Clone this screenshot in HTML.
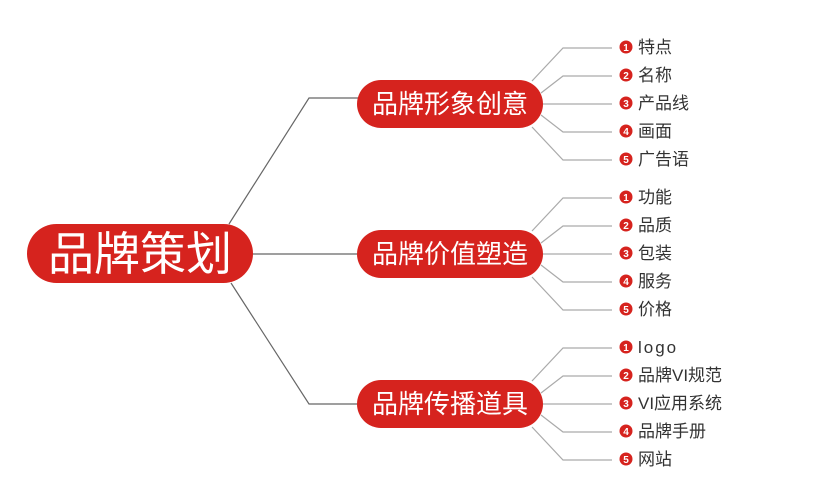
<!DOCTYPE html>
<html><head><meta charset="utf-8"><style>
html,body{margin:0;padding:0;background:#fff;}
svg{display:block;}
text{font-family:"Liberation Sans","Noto Sans CJK SC",sans-serif;}
</style></head><body>
<svg width="840" height="480" viewBox="0 0 840 480" xmlns="http://www.w3.org/2000/svg">
<g stroke="#666" stroke-width="1.2" fill="none">
<polyline points="229,224 309,98 360,98"/>
<line x1="250" y1="254" x2="360" y2="254"/>
<polyline points="231,283 309,404 360,404"/>
</g>
<g stroke="#aaa" stroke-width="1.2" fill="none">
<polyline points="532,81 563,48 612,48"/>
<polyline points="541,93 563,76 612,76"/>
<polyline points="541,104 612,104"/>
<polyline points="541,115 563,132 612,132"/>
<polyline points="532,127 563,160 612,160"/>
<polyline points="532,231 563,198 612,198"/>
<polyline points="541,243 563,226 612,226"/>
<polyline points="541,254 612,254"/>
<polyline points="541,265 563,282 612,282"/>
<polyline points="532,277 563,310 612,310"/>
<polyline points="532,381 563,348 612,348"/>
<polyline points="541,393 563,376 612,376"/>
<polyline points="541,404 612,404"/>
<polyline points="541,415 563,432 612,432"/>
<polyline points="532,427 563,460 612,460"/>
</g>
<rect x="27" y="224" width="226" height="59" rx="29.5" fill="#d6231e"/>
<text x="140" y="270" font-size="46" fill="#fff" text-anchor="middle">品牌策划</text>
<rect x="357" y="80" width="186" height="48" rx="24" fill="#d6231e"/>
<text x="450" y="113" font-size="26" fill="#fff" text-anchor="middle">品牌形象创意</text>
<rect x="357" y="230" width="186" height="48" rx="24" fill="#d6231e"/>
<text x="450" y="263" font-size="26" fill="#fff" text-anchor="middle">品牌价值塑造</text>
<rect x="357" y="380" width="186" height="48" rx="24" fill="#d6231e"/>
<text x="450" y="413" font-size="26" fill="#fff" text-anchor="middle">品牌传播道具</text>
<g font-size="17" fill="#333">
<text x="638" y="53">特点</text>
<text x="638" y="81">名称</text>
<text x="638" y="109">产品线</text>
<text x="638" y="137">画面</text>
<text x="638" y="165">广告语</text>
<text x="638" y="203">功能</text>
<text x="638" y="231">品质</text>
<text x="638" y="259">包装</text>
<text x="638" y="287">服务</text>
<text x="638" y="315">价格</text>
<text x="638" y="353" letter-spacing="2">logo</text>
<text x="638" y="381">品牌VI规范</text>
<text x="638" y="409">VI应用系统</text>
<text x="638" y="437">品牌手册</text>
<text x="638" y="465">网站</text>
</g>
<g fill="#d6231e">
<circle cx="626" cy="47" r="6.5"/><circle cx="626" cy="75" r="6.5"/><circle cx="626" cy="103" r="6.5"/><circle cx="626" cy="131" r="6.5"/><circle cx="626" cy="159" r="6.5"/>
<circle cx="626" cy="197" r="6.5"/><circle cx="626" cy="225" r="6.5"/><circle cx="626" cy="253" r="6.5"/><circle cx="626" cy="281" r="6.5"/><circle cx="626" cy="309" r="6.5"/>
<circle cx="626" cy="347" r="6.5"/><circle cx="626" cy="375" r="6.5"/><circle cx="626" cy="403" r="6.5"/><circle cx="626" cy="431" r="6.5"/><circle cx="626" cy="459" r="6.5"/>
</g>
<g font-size="10" font-weight="bold" fill="#fff" text-anchor="middle">
<text x="626" y="51">1</text><text x="626" y="79">2</text><text x="626" y="107">3</text><text x="626" y="135">4</text><text x="626" y="163">5</text>
<text x="626" y="201">1</text><text x="626" y="229">2</text><text x="626" y="257">3</text><text x="626" y="285">4</text><text x="626" y="313">5</text>
<text x="626" y="351">1</text><text x="626" y="379">2</text><text x="626" y="407">3</text><text x="626" y="435">4</text><text x="626" y="463">5</text>
</g>
</svg>
</body></html>
